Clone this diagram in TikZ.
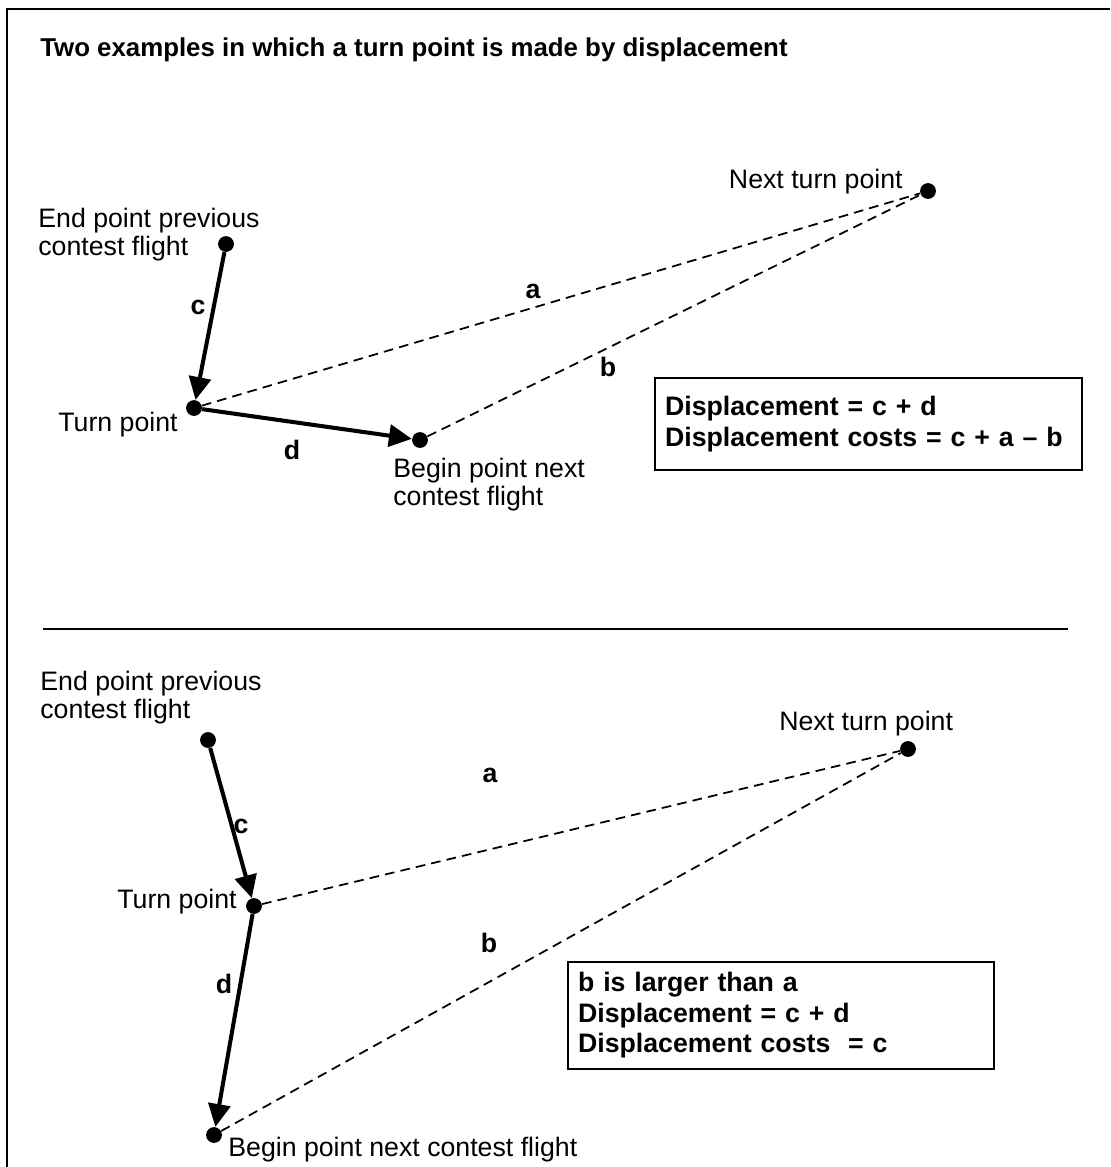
\documentclass[tikz,border=0pt]{standalone}
\usepackage{fontspec}
\setmainfont{Liberation Sans}
\usetikzlibrary{arrows.meta}

\begin{document}
\begin{tikzpicture}[x=0.02cm,y=-0.02cm,
  dot/.style={circle,fill=black,inner sep=0pt,minimum size=9pt},
  txt/.style={font=\fontsize{15.2}{16}\selectfont,align=left,inner sep=0pt},
  lbl/.style={font=\fontsize{15.2}{16}\selectfont\bfseries,inner sep=0pt},
  legs/.style={line width=2.3pt,-{Triangle[length=13pt,width=12.5pt]}},
  dist/.style={line width=1pt,dash pattern=on 5.5pt off 3.5pt},
  infobox/.style={draw,line width=1.2pt,font=\fontsize{15.2}{17.4}\selectfont\bfseries,
    align=left,inner xsep=5.7pt,minimum height=#1}]
\useasboundingbox (0,0) rectangle (1110,1167);
\draw[line width=1.2pt] (7,1167) -- (7,9) -- (1110,9);
\node[lbl,anchor=west,font=\fontsize{14.7}{16}\selectfont\bfseries] (title) at (40,50)
  {Two examples in which a turn point is made by displacement};

% first example
\node [dot] (end1) at (226,244) {};
\node [dot] (turn1) at (194,408) {};
\node [dot] (begin1) at (420,440) {};
\node [dot] (next1) at (928,191) {};
\node [txt,anchor=west] (endtxt1) at (38,235) {End point previous\\contest flight};
\node [txt,anchor=east] (turntxt1) at (178,425) {Turn point};
\node [txt,anchor=west] (begintxt1) at (393,485) {Begin point next\\contest flight};
\node [txt,anchor=east] (nexttxt1) at (903,182) {Next turn point};
\draw [dist] (turn1) -- (next1);
\draw [dist] (begin1) -- (next1);
\draw [legs] (end1) -- (turn1);
\draw [legs] (turn1) -- (begin1);
\node [lbl] (c1) at (198,307) {c};
\node [lbl] (d1) at (292,450) {d};
\node [lbl] (a1) at (533,291) {a};
\node [lbl] (b1) at (608,367) {b};
\node [infobox=52.4pt,text width=231.6pt] (box1) at (868.5,424)
  {Displacement = c + d\\Displacement costs = c + a -- b};

\draw[line width=1.4pt] (43,629) -- (1068,629);

% second example
\node [dot] (end2) at (208,740) {};
\node [dot] (turn2) at (254,906) {};
\node [dot] (begin2) at (214,1135) {};
\node [dot] (next2) at (908,749) {};
\node [txt,anchor=west] (endtxt2) at (40,698) {End point previous\\contest flight};
\node [txt,anchor=east] (turntxt2) at (237,902) {Turn point};
\node [txt,anchor=west] (begintxt2) at (228,1150) {Begin point next contest flight};
\node [txt,anchor=west] (nexttxt2) at (779,724) {Next turn point};
\draw [dist] (turn2) -- (next2);
\draw [dist] (begin2) -- (next2);
\draw [legs] (end2) -- (turn2);
\draw [legs] (turn2) -- (begin2);
\node [lbl] (c2) at (241,826) {c};
\node [lbl] (d2) at (224,984) {d};
\node [lbl] (a2) at (490,775) {a};
\node [lbl] (b2) at (489,943) {b};
\node [infobox=60.9pt,text width=231pt] (box2) at (781,1015.5)
  {b is larger than a\\Displacement = c + d\\Displacement costs~ = c};
\end{tikzpicture}
\end{document}
